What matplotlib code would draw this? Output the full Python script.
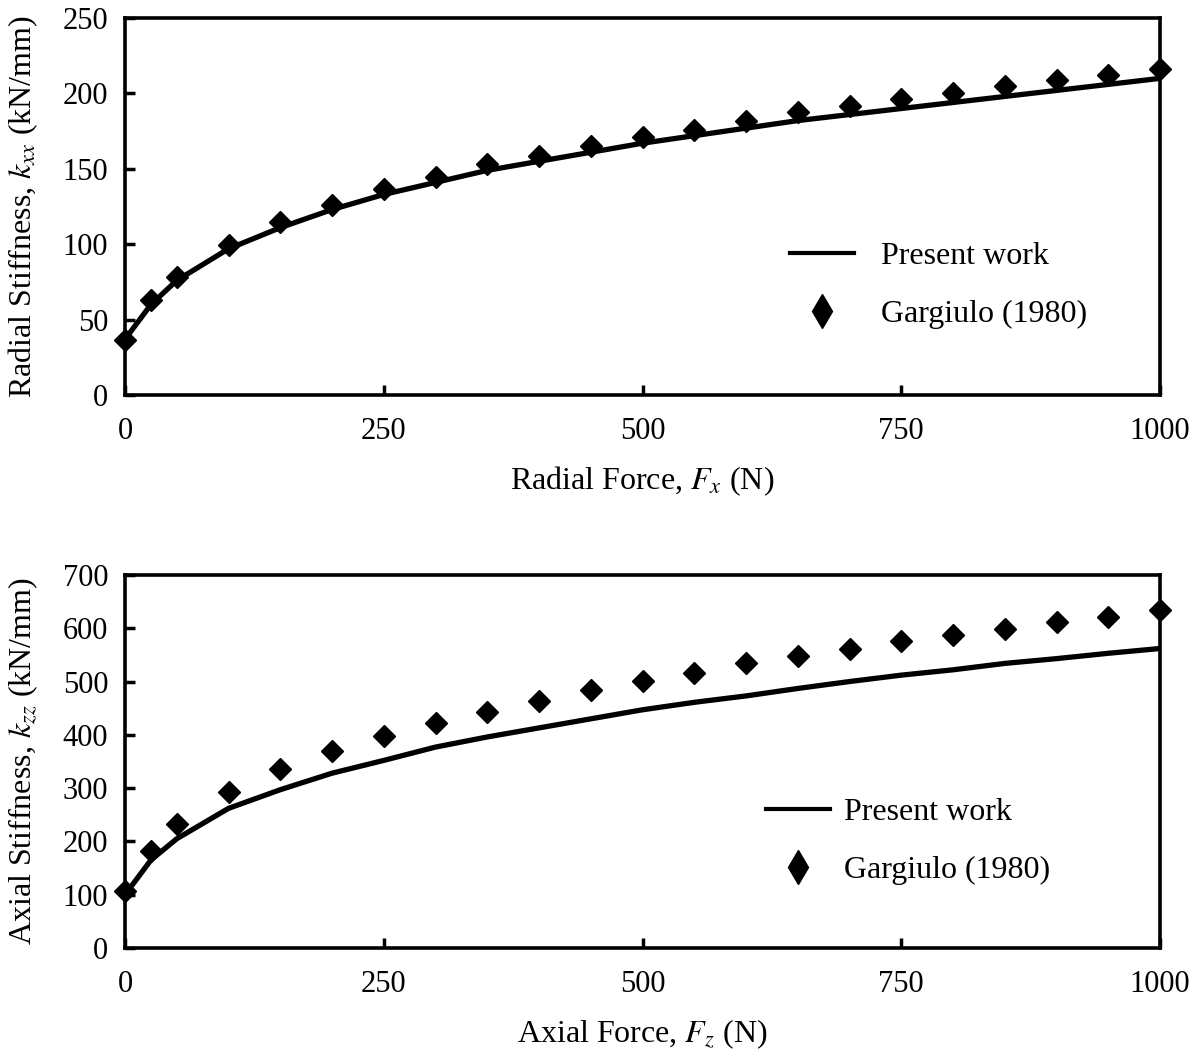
import numpy as np
import matplotlib
matplotlib.use('Agg')
import matplotlib.pyplot as plt
from matplotlib.lines import Line2D

plt.rcParams['font.family'] = ['Liberation Serif', 'DejaVu Serif']
plt.rcParams['mathtext.fontset'] = 'stix'

# Force levels (N)
force = [0, 25, 50, 100, 150, 200, 250, 300, 350, 400, 450, 500,
         550, 600, 650, 700, 750, 800, 850, 900, 950, 1000]

# Radial stiffness k_xx (kN/mm)
kxx_present = [37, 60, 76, 97, 111, 123, 133, 141, 149, 155, 161, 167,
               172, 177, 182, 186, 190, 194, 198, 202, 206, 210]
kxx_gargiulo = [36.5, 63, 78, 99.5, 115, 126, 136.5, 144.5, 153, 158.5, 165, 171,
                176, 182, 187.5, 191.5, 196, 200, 205, 209, 212, 216]

# Axial stiffness k_zz (kN/mm)
kzz_present = [100, 165, 205, 262, 297, 328, 352, 377, 396, 413, 430, 447,
               461, 473, 487, 500, 512, 522, 534, 543, 553, 562]
kzz_gargiulo = [107, 182, 233, 293, 336, 370, 398, 422, 443, 463, 484, 501,
                516, 535, 548, 561, 576, 587, 599, 612, 621, 634]

tick_fs = 22
lab_fs = 23

fig = plt.figure(figsize=(12.01, 10.49), dpi=100)
ax1 = fig.add_axes([0.1041, 0.6234, 0.8618, 0.3594])
ax2 = fig.add_axes([0.1041, 0.0963, 0.8618, 0.3556])

# ax, present, gargiulo, ymax, ystep, ylabel, xlabel, legend anchor, handletextpad
panels = [
    (ax1, kxx_present, kxx_gargiulo, 250, 50,
     r'Radial Stiffness, $k_{xx}$ (kN/mm)', r'Radial Force, $F_x$ (N)', (0.627, 0.132), 0.85),
    (ax2, kzz_present, kzz_gargiulo, 700, 100,
     r'Axial Stiffness, $k_{zz}$ (kN/mm)', r'Axial Force, $F_z$ (N)', (0.604, 0.125), 0.45),
]

for ax, present, garg, ymax, ystep, ylab, xlab, legpos, htp in panels:
    ax.plot(force, present, color='black', linewidth=3.8, zorder=3)
    ax.plot(force, garg, linestyle='none', marker='D', markersize=11,
            color='black', zorder=4, clip_on=False)
    ax.set_xlim(0, 1000)
    ax.set_ylim(0, ymax)
    ax.set_xticks(np.arange(0, 1001, 250))
    ax.set_yticks(np.arange(0, ymax + 1, ystep))
    ax.tick_params(direction='in', length=7, width=2.5, labelsize=tick_fs)
    ax.tick_params(axis='x', pad=16)
    ax.tick_params(axis='y', pad=12)
    for sp in ax.spines.values():
        sp.set_linewidth(2.6)
    ax.set_ylabel(ylab, fontsize=lab_fs)
    ax.set_xlabel(xlab, fontsize=lab_fs)
    ax.yaxis.set_label_coords(-0.082, 0.5)
    ax.xaxis.set_label_coords(0.5, -0.185)

    handles = [Line2D([], [], color='black', linewidth=3),
               Line2D([], [], linestyle='none', marker='d', markersize=17, color='black')]
    ax.legend(handles, ['Present work', 'Gargiulo (1980)'], loc='lower left',
              bbox_to_anchor=legpos, frameon=False, fontsize=lab_fs, borderpad=0,
              handlelength=2.0, handletextpad=htp, labelspacing=0.9)

fig.savefig('out.png', dpi=100)
